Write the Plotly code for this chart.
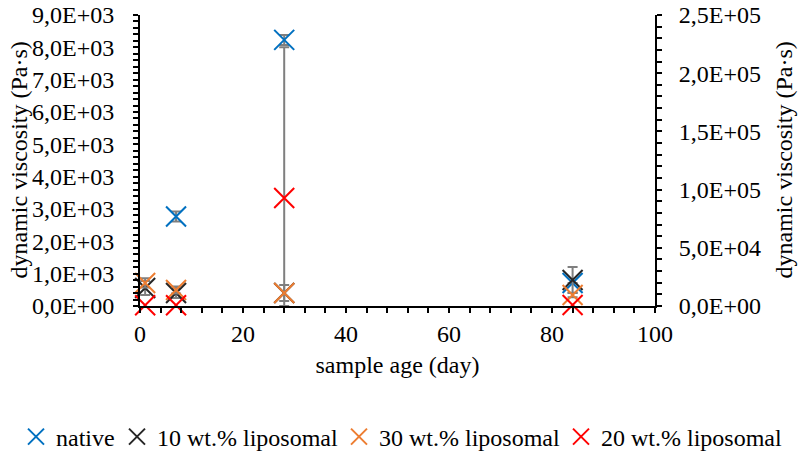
import plotly.graph_objects as go

# ---- data ----
native_day = [7, 28, 84]
native_visc = [2770, 8230, 710]
native_err = [155, 155, 0]

lip10_day = [1, 7, 28, 84]
lip10_visc = [15500, 11200, 11200, 22300]
lip10_err_plus = [6000, 4300, 211000, 11200]
lip10_err_minus = [6000, 4300, 11200, 11200]

lip30_day = [1, 7, 28, 84]
lip30_visc = [19800, 13700, 11200, 9450]
lip30_err = [4000, 3000, 6900, 2000]

lip20_day = [1, 7, 28, 84]
lip20_visc = [600, 600, 92800, 800]

y1_tickvals = [0, 1000, 2000, 3000, 4000, 5000, 6000, 7000, 8000, 9000]
y1_ticktext = ["0,0E+00", "1,0E+03", "2,0E+03", "3,0E+03", "4,0E+03",
               "5,0E+03", "6,0E+03", "7,0E+03", "8,0E+03", "9,0E+03"]
y2_tickvals = [0, 50000, 100000, 150000, 200000, 250000]
y2_ticktext = ["0,0E+00", "5,0E+04", "1,0E+05", "1,5E+05", "2,0E+05", "2,5E+05"]

FONT = "Liberation Serif"
FS = 24
ERRC = "#7F7F7F"
PL, PR, PT, PB = 140, 655, 15, 306  # plot area in px
PW, PH = PR - PL, PB - PT

fig = go.Figure()

def mk(color):
    return dict(symbol="x-thin-open", size=20, color=color, line=dict(color=color, width=2))

fig.add_trace(go.Scatter(
    x=native_day, y=native_visc, mode="markers", name="native", legend="legend",
    marker=mk("#0070C0"), cliponaxis=False,
    error_y=dict(type="data", array=native_err, color=ERRC, thickness=2, width=5),
))
fig.add_trace(go.Scatter(
    x=lip10_day, y=lip10_visc, mode="markers", name="10 wt.% liposomal", yaxis="y2",
    legend="legend2", marker=mk("#262626"), cliponaxis=False,
    error_y=dict(type="data", symmetric=False, array=lip10_err_plus,
                 arrayminus=lip10_err_minus, color=ERRC, thickness=2, width=5),
))
fig.add_trace(go.Scatter(
    x=lip30_day, y=lip30_visc, mode="markers", name="30 wt.% liposomal", yaxis="y2",
    legend="legend3", marker=mk("#ED7D31"), cliponaxis=False,
    error_y=dict(type="data", array=lip30_err, color=ERRC, thickness=2, width=5),
))
fig.add_trace(go.Scatter(
    x=lip20_day, y=lip20_visc, mode="markers", name="20 wt.% liposomal", yaxis="y2",
    legend="legend4", marker=mk("#FF0000"), cliponaxis=False,
))

def leg(px):
    return dict(orientation="h", xref="paper", yref="paper",
                x=(px - PL) / PW, xanchor="left", y=(PB - 437) / PH, yanchor="middle",
                font=dict(family=FONT, size=FS, color="black"), bgcolor="rgba(0,0,0,0)")

axis_common = dict(showline=True, linecolor="black", linewidth=2, showgrid=False,
                   zeroline=False, ticks="outside", ticklen=5, tickwidth=2,
                   tickcolor="black", tickfont=dict(family=FONT, size=FS, color="black"))

fig.update_layout(
    width=799, height=451,
    margin=dict(l=PL, r=799 - PR, t=PT, b=451 - PB, autoexpand=False),
    paper_bgcolor="white", plot_bgcolor="white",
    font=dict(family=FONT, size=FS, color="black"),
    showlegend=True,
    legend=leg(16), legend2=leg(117), legend3=leg(339), legend4=leg(561),
    xaxis=dict(range=[0, 100], tickmode="array", tickvals=[0, 20, 40, 60, 80, 100],
               minor=dict(dtick=4, ticks="outside", ticklen=5, tickwidth=1.5, tickcolor="black"),
               ticklabelstandoff=0,
               title=dict(text="sample age (day)", font=dict(family=FONT, size=FS), standoff=10),
               **axis_common),
    yaxis=dict(range=[0, 9000], tickmode="array", tickvals=y1_tickvals, ticktext=y1_ticktext,
               minor=dict(dtick=200, ticks="outside", ticklen=5, tickwidth=1.5, tickcolor="black"),
               ticklabelstandoff=14, **axis_common),
    yaxis2=dict(range=[0, 250000], overlaying="y", side="right", anchor="x",
                tickmode="array", tickvals=y2_tickvals, ticktext=y2_ticktext,
                minor=dict(dtick=10000, ticks="outside", ticklen=5, tickwidth=1.5, tickcolor="black"),
                ticklabelstandoff=12, **axis_common),
    annotations=[
        dict(text="dynamic viscosity (Pa·s)", xref="paper", yref="paper",
             x=(18 - PL) / PW, y=0.5, xanchor="center", yanchor="middle",
             textangle=-90, showarrow=False, font=dict(family=FONT, size=FS)),
        dict(text="dynamic viscosity (Pa·s)", xref="paper", yref="paper",
             x=(783 - PL) / PW, y=0.5, xanchor="center", yanchor="middle",
             textangle=-90, showarrow=False, font=dict(family=FONT, size=FS)),
    ],
)

fig.write_html("out.html")
